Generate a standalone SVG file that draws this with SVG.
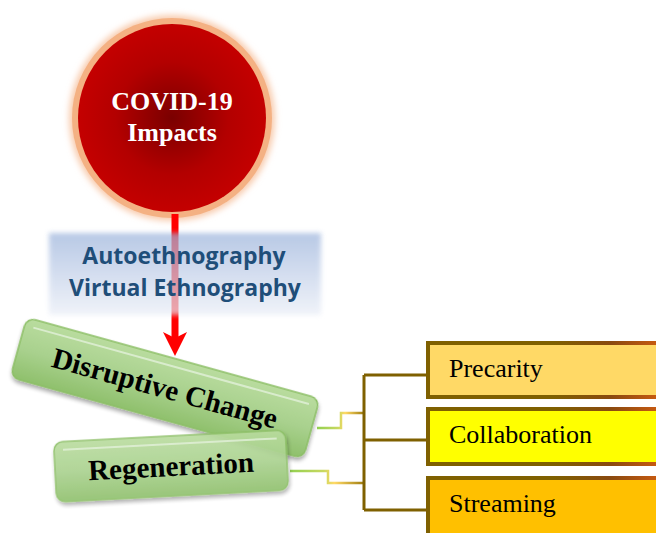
<svg xmlns="http://www.w3.org/2000/svg" width="656" height="533" viewBox="0 0 656 533">
<defs>
<style>
.gtxt{font-family:"Liberation Serif","Times New Roman",serif;font-weight:bold;font-size:29px;fill:#000;text-anchor:middle}
.btxt{font-family:"Liberation Serif","Times New Roman",serif;font-size:26px;fill:#000}
.mtxt{font-family:"Open Sans","Noto Sans",sans-serif;font-weight:bold;font-size:23px;fill:#1f4e79;text-anchor:middle}
.ctxt{font-family:"Liberation Serif","Times New Roman",serif;font-weight:bold;font-size:26px;fill:#fff;text-anchor:middle}
.bracket{fill:none;stroke:#7f6000;stroke-width:3}
.gbox{fill:url(#gfill);stroke:#8cbf66;stroke-width:1.5}
.ghl{fill:none;stroke:#e2f0d9;stroke-width:2;opacity:0.8}
.obox{stroke:url(#bstroke);stroke-width:4}
</style>
<radialGradient id="red" cx="0.5" cy="0.5" r="0.5">
<stop offset="0" stop-color="#7a0000"/>
<stop offset="0.6" stop-color="#b30000"/>
<stop offset="1" stop-color="#c40000"/>
</radialGradient>
<linearGradient id="blue" x1="0" y1="0" x2="0" y2="1">
<stop offset="0" stop-color="#9ab2db"/>
<stop offset="1" stop-color="#eaeef7"/>
</linearGradient>
<linearGradient id="gfill" x1="0" y1="0" x2="0" y2="1">
<stop offset="0" stop-color="#b9dc9e"/>
<stop offset="0.5" stop-color="#a9d18e"/>
<stop offset="1" stop-color="#8fc06c"/>
</linearGradient>
<linearGradient id="bstroke" gradientUnits="userSpaceOnUse" x1="428" y1="0" x2="656" y2="0">
<stop offset="0" stop-color="#7f6000"/>
<stop offset="0.55" stop-color="#7f6000"/>
<stop offset="0.8" stop-color="#8a4a10"/>
<stop offset="1" stop-color="#c55a11"/>
</linearGradient>
<linearGradient id="c1" gradientUnits="userSpaceOnUse" x1="317" y1="0" x2="364" y2="0">
<stop offset="0" stop-color="#92d050"/>
<stop offset="0.45" stop-color="#c8d860"/>
<stop offset="0.6" stop-color="#ffd966"/>
<stop offset="1" stop-color="#a07d10"/>
</linearGradient>
<linearGradient id="c2" gradientUnits="userSpaceOnUse" x1="290" y1="0" x2="364" y2="0">
<stop offset="0" stop-color="#92d050"/>
<stop offset="0.45" stop-color="#c8d860"/>
<stop offset="0.6" stop-color="#ffd966"/>
<stop offset="1" stop-color="#a07d10"/>
</linearGradient>
<filter id="glow" x="-20%" y="-20%" width="140%" height="140%">
<feGaussianBlur stdDeviation="3"/>
</filter>
<filter id="soft" x="-10%" y="-20%" width="120%" height="140%">
<feGaussianBlur stdDeviation="2.5"/>
</filter>
<filter id="shadow" x="-10%" y="-20%" width="130%" height="150%">
<feGaussianBlur in="SourceAlpha" stdDeviation="2"/>
<feOffset dx="1" dy="3" result="o"/>
<feComponentTransfer><feFuncA type="linear" slope="0.35"/></feComponentTransfer>
<feMerge><feMergeNode/><feMergeNode in="SourceGraphic"/></feMerge>
</filter>
</defs>
<rect width="656" height="533" fill="#fff"/>

<g id="covid">
<circle cx="172" cy="118" r="103" fill="#f8cbad" filter="url(#glow)"/>
<circle cx="172" cy="118" r="100" fill="#f4b183"/>
<circle cx="172" cy="118" r="94" fill="url(#red)"/>
<text class="ctxt" x="172" y="110">COVID-19</text>
<text class="ctxt" x="172" y="141">Impacts</text>
</g>

<g id="connectors">
<line x1="175" y1="214" x2="175" y2="340" stroke="#ff0000" stroke-width="7"/>
<path d="M163,332 L175,338 L187,332 L175,356 Z" fill="#ff0000"/>
<path d="M317,428 H341 V413 H364" fill="none" stroke="url(#c1)" stroke-width="2.5"/>
<path d="M290,471 H328 V483 H364" fill="none" stroke="url(#c2)" stroke-width="2.5"/>
<path class="bracket" d="M364,375 V510"/>
<path class="bracket" d="M364,375 H428"/>
<path class="bracket" d="M364,440 H428"/>
<path class="bracket" d="M364,510 H428"/>
</g>

<g id="methods">
<rect x="49" y="233" width="272" height="82" fill="url(#blue)" opacity="0.7" filter="url(#soft)"/>
<text class="mtxt" x="184" y="264">Autoethnography</text>
<text class="mtxt" x="185" y="296">Virtual Ethnography</text>
</g>

<g id="disruptive" transform="translate(165,388) rotate(15.5)">
<rect class="gbox" x="-152" y="-31" width="304" height="62" rx="9" filter="url(#shadow)"/>
<path class="ghl" d="M-143,-23 H143"/>
<text class="gtxt" x="0" y="10">Disruptive Change</text>
</g>

<g id="regeneration" transform="translate(171,466) rotate(-3)">
<rect class="gbox" x="-116" y="-30" width="232" height="60" rx="9" filter="url(#shadow)" opacity="0.9"/>
<path class="ghl" d="M-107,-22 H107"/>
<text class="gtxt" x="0" y="10">Regeneration</text>
</g>

<g id="precarity">
<rect class="obox" x="428" y="343" width="260" height="54" fill="#ffd966"/>
<text class="btxt" x="449" y="377">Precarity</text>
</g>
<g id="collaboration">
<rect class="obox" x="428" y="409" width="260" height="55" fill="#ffff00"/>
<text class="btxt" x="449" y="443">Collaboration</text>
</g>
<g id="streaming">
<rect class="obox" x="428" y="478" width="260" height="70" fill="#ffc000"/>
<text class="btxt" x="449" y="512">Streaming</text>
</g>
</svg>
